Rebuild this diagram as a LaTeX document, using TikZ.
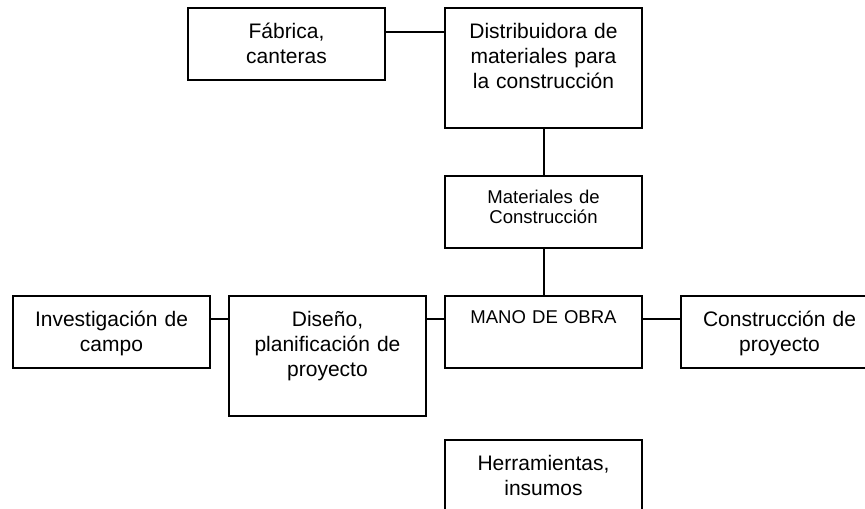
\documentclass[tikz,border=0pt]{standalone}
\usepackage{fontspec}
\setmainfont{Liberation Sans}
\usepackage{tikz}

\begin{document}
\begin{tikzpicture}[x=0.75pt, y=-0.75pt,
            caja/.style={draw, line width=1.5pt, anchor=north west, inner sep=0pt,
                minimum width=147.75pt, minimum height=54pt},
            rotulo/.style={label={[anchor=base, label distance=-23.5pt, text width=145pt,
                align=center, font=\fontsize{15.75}{18.75}\selectfont]north:#1}},
            rotulochico/.style={label={[anchor=base, label distance=-21.5pt, text width=145pt,
                align=center, font=\fontsize{13.9}{15}\selectfont]north:#1}}]
            \useasboundingbox (0,0) rectangle (865,509);

            % Boxes
            \node[caja, rotulo={Fábrica,\\canteras}] (fabrica) at (187,7) {};
            \node[caja, minimum height=90pt, rotulo={Distribuidora de\\materiales para\\la construcción}] (distrib) at (444,7) {};
            \node[caja, rotulochico={Materiales de\\Construcción}] (materiales) at (444,175) {};
            \node[caja, rotulochico={MANO DE OBRA}] (mano) at (444,295) {};
            \node[caja, rotulo={Investigación de\\campo}] (investig) at (12,295) {};
            \node[caja, minimum height=90pt, rotulo={Diseño,\\planificación de\\proyecto}] (diseno) at (228,295) {};
            \node[caja, rotulo={Construcción de\\proyecto}] (construc) at (680,295) {};
            \node[caja, rotulo={Herramientas,\\insumos}] (herram) at (444,439) {};

            % Connectors
            \draw[line width=1.5pt] (fabrica.east |- 0,32) -- (distrib.west |- 0,32);
            \draw[line width=1.5pt] (distrib) -- (materiales);
            \draw[line width=1.5pt] (materiales) -- (mano);
            \draw[line width=1.5pt] (investig.east |- 0,319) -- (diseno.west |- 0,319);
            \draw[line width=1.5pt] (diseno.east |- 0,319) -- (mano.west |- 0,319);
            \draw[line width=1.5pt] (mano.east |- 0,319) -- (construc.west |- 0,319);

        \end{tikzpicture}
\end{document}
